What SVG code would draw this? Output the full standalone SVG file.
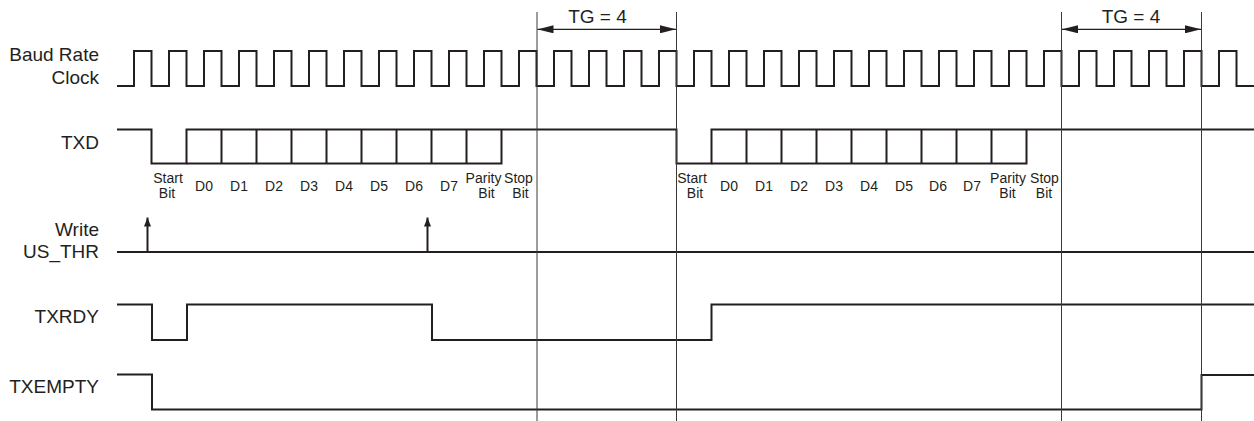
<svg xmlns="http://www.w3.org/2000/svg" width="1254" height="421" viewBox="0 0 1254 421">
<style>
.lbl{font-family:"Liberation Sans",Arial,sans-serif;font-size:19px;fill:#231f20;text-anchor:end}
.tg{font-family:"Liberation Sans",Arial,sans-serif;font-size:19px;fill:#231f20;text-anchor:middle}
.bit{font-family:"Liberation Sans",Arial,sans-serif;font-size:14px;fill:#231f20;text-anchor:middle}
.sig{fill:none;stroke:#231f20;stroke-width:2;stroke-linejoin:miter}
.guide{fill:none;stroke:#3a3a3a;stroke-width:1}
.dim{fill:none;stroke:#231f20;stroke-width:1.2}
.wr{fill:none;stroke:#231f20;stroke-width:2}
</style>
<defs>
<marker id="ah" viewBox="0 0 16 8" refX="16" refY="4" markerWidth="16" markerHeight="8" markerUnits="userSpaceOnUse" orient="auto-start-reverse">
<path d="M0,0 L16,4 L0,8 z" fill="#231f20"/>
</marker>
<marker id="ahw" viewBox="0 0 9 7" refX="9" refY="3.5" markerWidth="9" markerHeight="7" markerUnits="userSpaceOnUse" orient="auto">
<path d="M0,0 L9,3.5 L0,7 z" fill="#231f20"/>
</marker>
</defs>

<g id="clock">
<text class="lbl" x="99" y="60.5">Baud Rate</text>
<text class="lbl" x="99" y="83.5">Clock</text>
<path class="sig" d="M117,86 H134 V51 H151.5 V86 H169 V51 H186.5 V86 H204 V51 H221.5 V86 H239 V51 H256.5 V86 H274 V51 H291.5 V86 H309 V51 H326.5 V86 H344 V51 H361.5 V86 H379 V51 H396.5 V86 H414 V51 H431.5 V86 H449 V51 H466.5 V86 H484 V51 H501.5 V86 H519 V51 H536.5 V86 H554 V51 H571.5 V86 H589 V51 H606.5 V86 H624 V51 H641.5 V86 H659 V51 H676.5 V86 H694 V51 H711.5 V86 H729 V51 H746.5 V86 H764 V51 H781.5 V86 H799 V51 H816.5 V86 H834 V51 H851.5 V86 H869 V51 H886.5 V86 H904 V51 H921.5 V86 H939 V51 H956.5 V86 H974 V51 H991.5 V86 H1009 V51 H1026.5 V86 H1044 V51 H1061.5 V86 H1079 V51 H1096.5 V86 H1114 V51 H1131.5 V86 H1149 V51 H1166.5 V86 H1184 V51 H1201.5 V86 H1219 V51 H1236.5 V86 H1254"/>
</g>

<g id="txd">
<text class="lbl" x="99" y="148.5">TXD</text>
<path class="sig" d="M117,129.5 H151.5 V163.5 H186.5 V129.5 H676.5 V163.5 H711.5 V129.5 H1254"/>
<path class="sig" d="M186.5,163.5 H501.5 V129.5 M221.5,129.5 V163.5 M256.5,129.5 V163.5 M291.5,129.5 V163.5 M326.5,129.5 V163.5 M361.5,129.5 V163.5 M396.5,129.5 V163.5 M431.5,129.5 V163.5 M466.5,129.5 V163.5"/>
<path class="sig" d="M711.5,163.5 H1026.5 V129.5 M746.5,129.5 V163.5 M781.5,129.5 V163.5 M816.5,129.5 V163.5 M851.5,129.5 V163.5 M886.5,129.5 V163.5 M921.5,129.5 V163.5 M956.5,129.5 V163.5 M991.5,129.5 V163.5"/>
<text class="bit" x="168" y="182.7">Start</text>
<text class="bit" x="167" y="198.3">Bit</text>
<text class="bit" x="204" y="191">D0</text>
<text class="bit" x="239" y="191">D1</text>
<text class="bit" x="274" y="191">D2</text>
<text class="bit" x="309" y="191">D3</text>
<text class="bit" x="344" y="191">D4</text>
<text class="bit" x="379" y="191">D5</text>
<text class="bit" x="414" y="191">D6</text>
<text class="bit" x="449" y="191">D7</text>
<text class="bit" x="483.5" y="182.7">Parity</text>
<text class="bit" x="486.5" y="198.3">Bit</text>
<text class="bit" x="518.5" y="182.7">Stop</text>
<text class="bit" x="520.5" y="198.3">Bit</text>
<text class="bit" x="692" y="182.7">Start</text>
<text class="bit" x="695" y="198.3">Bit</text>
<text class="bit" x="729" y="191">D0</text>
<text class="bit" x="764" y="191">D1</text>
<text class="bit" x="799" y="191">D2</text>
<text class="bit" x="834" y="191">D3</text>
<text class="bit" x="869" y="191">D4</text>
<text class="bit" x="904" y="191">D5</text>
<text class="bit" x="938" y="191">D6</text>
<text class="bit" x="972" y="191">D7</text>
<text class="bit" x="1008" y="182.7">Parity</text>
<text class="bit" x="1007.5" y="198.3">Bit</text>
<text class="bit" x="1044.5" y="182.7">Stop</text>
<text class="bit" x="1044" y="198.3">Bit</text>
</g>

<g id="write-us-thr">
<text class="lbl" x="99" y="236">Write</text>
<text class="lbl" x="99" y="258">US_THR</text>
<path class="sig" d="M117,252 H1254"/>
</g>

<g id="txrdy">
<text class="lbl" x="99" y="322.5">TXRDY</text>
<path class="sig" d="M117,304.5 H152 V340 H187 V304.5 H432 V340 H711.5 V304.5 H1254"/>
</g>

<g id="txempty">
<text class="lbl" x="99" y="392.5">TXEMPTY</text>
<path class="sig" d="M117,374.5 H152 V409.5 H1201.5 V375 H1254"/>
</g>

<g id="connectors">
<line class="guide" x1="537" y1="12" x2="537" y2="421"/>
<line class="guide" x1="676.5" y1="12" x2="676.5" y2="421"/>
<line class="guide" x1="1061.5" y1="12" x2="1061.5" y2="421"/>
<line class="guide" x1="1201.5" y1="12" x2="1201.5" y2="421"/>
<line class="dim" x1="537.5" y1="29.3" x2="676" y2="29.3" marker-start="url(#ah)" marker-end="url(#ah)"/>
<line class="dim" x1="1062" y1="29.3" x2="1201" y2="29.3" marker-start="url(#ah)" marker-end="url(#ah)"/>
<line class="wr" x1="147.5" y1="252" x2="147.5" y2="217.5" marker-end="url(#ahw)"/>
<line class="wr" x1="427.5" y1="252" x2="427.5" y2="217.5" marker-end="url(#ahw)"/>
</g>

<g id="tg-labels">
<text class="tg" x="597.5" y="23.3">TG = 4</text>
<text class="tg" x="1131" y="23.3">TG = 4</text>
</g>
</svg>
